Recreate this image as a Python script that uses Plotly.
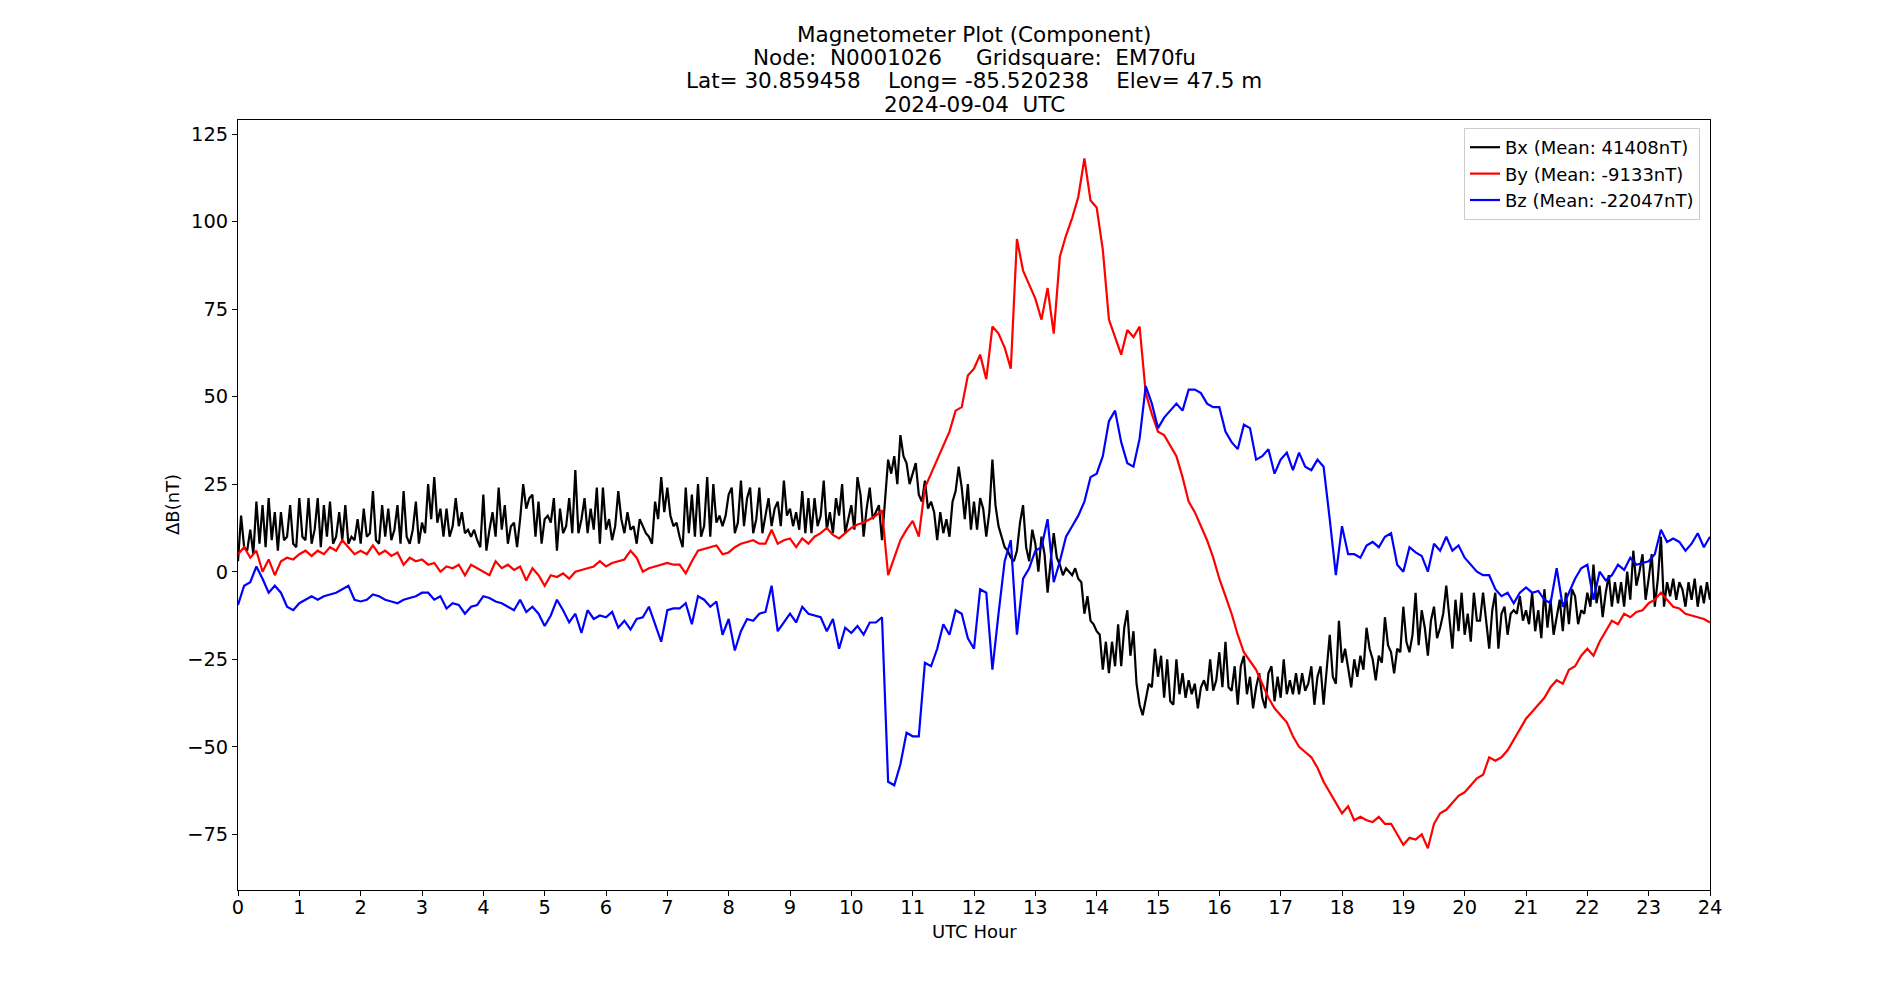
import numpy as np
import plotly.graph_objects as go

# ---------------- data ----------------
# Bx, sampled every 0.05 h (one line = one hour: h.00 ... h.95), last value = 24.00
bx_values = [
    3, 16, 7, 6, 12, 5, 20, 8, 19, 7, 21, 9, 17, 6, 17, 9, 10, 19, 8, 7,
    21, 10, 9, 21, 8, 12, 21, 7, 19, 10, 20, 8, 10, 17, 9, 19, 8, 10, 9, 15,
    8, 18, 10, 11, 23, 9, 8, 19, 10, 18, 9, 12, 19, 8, 23, 10, 8, 12, 20, 8,
    14, 11, 25, 15, 27, 14, 18, 10, 18, 10, 13, 21, 13, 17, 11, 12, 10, 12, 9, 7,
    22, 6, 12, 17, 10, 24, 12, 19, 8, 13, 14, 7, 15, 25, 18, 21, 22, 10, 20, 8,
    15, 16, 14, 21, 6, 18, 11, 13, 21, 11, 29, 11, 15, 21, 11, 18, 12, 24, 8, 24,
    12, 15, 9, 13, 23, 15, 11, 17, 12, 13, 8, 15, 13, 11, 10, 8, 20, 15, 27, 17,
    24, 16, 13, 14, 10, 7, 24, 11, 22, 10, 25, 10, 13, 27, 10, 25, 14, 16, 13, 16,
    22, 24, 11, 14, 26, 13, 21, 24, 11, 15, 24, 11, 16, 21, 13, 18, 20, 13, 26, 16,
    18, 13, 17, 12, 23, 11, 21, 11, 21, 13, 16, 26, 12, 17, 11, 21, 16, 25, 11, 15,
    19, 12, 27, 22, 10, 18, 24, 15, 17, 19, 9, 20, 32, 28, 33, 25, 39, 33, 31, 25,
    28, 31, 22, 20, 26, 18, 20, 17, 9, 17, 11, 15, 10, 20, 23, 30, 24, 15, 25, 12,
    20, 12, 21, 18, 10, 17, 32, 19, 13, 10, 7, 6, 4, 3, 6, 14, 19, 7, 3, 12,
    8, 0, 10, 5, -6, 3, 11, 4, 2, -1, 1, 0, -1, 1, -2, -3, -12, -7, -14, -15,
    -17, -18, -28, -20, -29, -20, -27, -15, -27, -16, -11, -24, -17, -32, -38, -41, -36, -32, -33, -22,
    -30, -24, -36, -25, -37, -38, -25, -35, -29, -36, -31, -35, -32, -39, -33, -31, -34, -25, -34, -31,
    -23, -33, -20, -33, -34, -27, -38, -27, -24, -35, -30, -39, -33, -29, -36, -39, -29, -27, -37, -30,
    -36, -25, -35, -31, -35, -29, -35, -29, -34, -32, -27, -38, -30, -27, -38, -27, -18, -30, -32, -14,
    -26, -22, -28, -33, -25, -30, -24, -28, -16, -22, -25, -31, -24, -26, -13, -21, -23, -29, -22, -23,
    -10, -20, -23, -18, -6, -21, -11, -16, -24, -14, -10, -19, -16, -12, -4, -14, -22, -8, -17, -6,
    -18, -12, -20, -6, -14, -14, -6, -14, -22, -11, -6, -22, -12, -10, -18, -12, -11, -12, -7, -14,
    -11, -15, -6, -17, -11, -19, -5, -16, -8, -18, -13, -8, -17, -6, -15, -5, -7, -15, -11, -12,
    -6, -10, 2, -9, -4, -13, -6, -1, -10, -3, -9, -3, -10, 0, -8, 6, -4, 0, 5, -8,
    -2, 5, -10, -2, 10, -10, -3, -7, -2, -8, -3, -5, -10, -3, -8, -2, -10, -4, -9, -3,
    -8,
]

# By, sampled every 0.1 h (one line = one hour: h.0 ... h.9), last value = 24.0
by_values = [
    5, 7, 4, 6, 0, 3.5, -1, 3, 4, 3.5,
    5, 6, 4.5, 6, 5, 7, 6, 9, 7, 5,
    6, 5, 7.5, 5, 6, 4.5, 5.5, 2, 4, 3,
    3.5, 2, 2.5, 0, 1.5, 1, 2, -1, 2, 1,
    0, -1, 3, 1, 2, 0.5, 1.5, -2.5, 1, -1,
    -4, -1, -1.5, -0.5, -2, 0, 0.5, 1, 1.5, 3,
    1.5, 2.5, 3, 3.5, 6, 4, 0, 1, 1.5, 2,
    2.5, 2, 2, -0.5, 3, 6, 6.5, 7, 7.5, 5,
    5.5, 7, 8, 8.5, 9, 8, 8, 12, 8, 9,
    9.5, 7, 9.5, 8, 10, 11, 12.5, 10.5, 9.5, 11,
    12.5, 13.5, 14, 15, 16, 17.5, -1, 4, 9, 12,
    14.5, 10, 24, 28, 32, 36, 40, 46, 47, 56,
    58, 62, 55, 70, 68, 64, 58, 95, 86, 82,
    78, 72, 81, 68, 90, 96, 101, 107, 118, 106,
    104, 92, 72, 67, 62, 69, 67, 70, 51, 45,
    40, 39, 36, 33, 27, 20, 17, 13, 9, 4,
    -2, -7, -12, -18, -23, -25.5, -28, -32, -36, -39,
    -41, -43, -47, -50, -51.5, -53, -56, -60, -63, -66,
    -69, -67, -71, -70, -71, -71.5, -70, -72, -72, -75,
    -78, -76, -76.5, -75, -79, -72, -69, -68, -66, -64,
    -63, -61, -59, -58, -53, -54, -53, -51, -48, -45,
    -42, -40, -38, -36, -33, -31, -32, -28, -27, -24,
    -22, -24, -20, -17, -14, -15, -12, -13, -11.5, -11,
    -9, -8, -6, -8, -10, -10.5, -12, -12.5, -13, -13.5,
    -14.5,
]

# Bz, sampled every 0.1 h (one line = one hour: h.0 ... h.9), last value = 24.0
bz_values = [
    -9.5, -4, -3, 1.5, -2, -6, -4, -6, -10, -11,
    -9, -8, -7, -8, -7, -6.5, -6, -5, -4, -8,
    -8.5, -8, -6.5, -7, -8, -8.5, -9, -8, -7.5, -7,
    -6, -6, -8, -7, -10.5, -9, -9.5, -12, -10, -9.5,
    -7, -7.5, -8.5, -9, -10, -11, -8, -11.5, -10, -12,
    -15.5, -12.5, -8, -11, -14.5, -12, -17.5, -11, -13.5, -12.5,
    -13, -11.5, -16, -14, -16.5, -13.5, -13, -10, -15, -20,
    -11, -10.5, -10.5, -9, -15, -7, -8, -10, -8.5, -18,
    -13.5, -22.5, -17, -13.5, -14, -12, -11.5, -4, -17, -14.5,
    -12, -14.5, -10, -12, -12.5, -13, -17, -13.5, -22, -16,
    -17.5, -15.5, -18, -14.5, -14.5, -13, -60, -61, -55, -46,
    -47, -47, -26, -27, -22, -15, -18, -11, -12, -19,
    -22, -5, -6, -28, -12, 3, 9, -18, -2, 1,
    6, 7, 15, -3, 3, 10, 13, 16, 20, 27,
    28, 33, 43, 46, 37, 31, 30, 38, 53, 48,
    41, 44, 46, 48, 46, 52, 52, 51, 48, 47,
    47, 40, 37, 35, 42, 41, 32, 33, 35, 28,
    32, 34, 29, 34, 30, 29, 32, 30, 15, -1,
    13, 5, 5, 4, 7.5, 8.5, 7, 10, 11, 2,
    0, 7, 5.5, 4.5, 0, 8, 6, 10, 6, 7.5,
    4, 2, 0, -1, -1, -5, -7, -6, -9, -6,
    -4.5, -6, -5.5, -8, -9, 1, -10, -6, -2, 1,
    2, -8, 0, -2.5, -1, 2, 0.5, 4, 2, 2.5,
    3, 5, 12, 8.5, 9.5, 8.5, 6, 8, 11, 7,
    10,
]

series_names = ["Bx (Mean: 41408nT)", "By (Mean: -9133nT)", "Bz (Mean: -22047nT)"]
series_colors = ["black", "red", "blue"]

x_tick_values = list(range(0, 25))
y_tick_values = [-75, -50, -25, 0, 25, 50, 75, 100, 125]
y_tick_labels = [("\u2212" + str(-v)) if v < 0 else str(v) for v in y_tick_values]

title_lines = [
    "Magnetometer Plot (Component)",
    "Node:  N0001026     Gridsquare:  EM70fu",
    "Lat= 30.859458    Long= -85.520238    Elev= 47.5 m",
    "2024-09-04  UTC",
]
x_label = "UTC Hour"
y_label = "\u0394B(nT)"

# ---------------- figure ----------------
t_bx = np.linspace(0, 24, len(bx_values))
t_by = np.linspace(0, 24, len(by_values))
t_bz = np.linspace(0, 24, len(bz_values))

FONT = "DejaVu Sans"
TICK_SIZE = 19.4
LABEL_SIZE = 18
TITLE_SIZE = 21.5

fig = go.Figure()
for t, v, name, col in zip([t_bx, t_by, t_bz], [bx_values, by_values, bz_values],
                           series_names, series_colors):
    fig.add_trace(go.Scatter(x=t, y=v, mode="lines", name=name,
                             line=dict(color=col, width=2.2), hoverinfo="skip"))

W, H = 1900, 1000
L, R, T, B = 238, 190, 120, 110

axis_common = dict(showline=True, linecolor="black", linewidth=1.1, mirror=True,
                   showgrid=False, zeroline=False, ticks="outside", ticklen=5,
                   tickwidth=1.1, tickcolor="black",
                   tickfont=dict(family=FONT, size=TICK_SIZE, color="black"))

fig.update_layout(
    width=W, height=H,
    margin=dict(l=L, r=R, t=T, b=B, pad=0),
    paper_bgcolor="white", plot_bgcolor="white",
    font=dict(family=FONT, color="black"),
    showlegend=True,
    legend=dict(x=0.9932, y=0.9896, xanchor="right", yanchor="top",
                bgcolor="rgba(255,255,255,0.8)", bordercolor="#cccccc", borderwidth=1,
                font=dict(family=FONT, size=LABEL_SIZE, color="black")),
    xaxis=dict(range=[0, 24], tickmode="array", tickvals=x_tick_values,
               ticktext=[str(v) for v in x_tick_values], ticklabelstandoff=-5,
               **axis_common),
    yaxis=dict(range=[-90.9, 129.0], tickmode="array", tickvals=y_tick_values,
               ticktext=y_tick_labels, **axis_common),
)

# title lines (centre offsets in px above the plot top)
title_shifts = [86, 62.6, 39.3, 16]
for line, sh in zip(title_lines, title_shifts):
    fig.add_annotation(text=line, xref="paper", yref="paper", x=0.5, y=1,
                       xanchor="center", yanchor="middle", yshift=sh, showarrow=False,
                       font=dict(family=FONT, size=TITLE_SIZE, color="black"))

# axis labels
fig.add_annotation(text=x_label, xref="paper", yref="paper", x=0.5, y=0,
                   xanchor="center", yanchor="middle", yshift=-(931 - (H - B)),
                   showarrow=False, font=dict(family=FONT, size=LABEL_SIZE, color="black"))
fig.add_annotation(text=y_label, xref="paper", yref="paper", x=0, y=0.5,
                   xanchor="center", yanchor="middle", xshift=-(L - 172),
                   textangle=-90, showarrow=False,
                   font=dict(family=FONT, size=LABEL_SIZE, color="black"))

fig.write_html("out.html", config={"displayModeBar": False})
